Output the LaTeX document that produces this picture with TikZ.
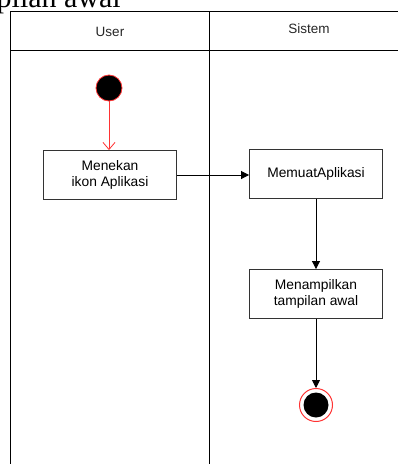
\documentclass[tikz,border=0pt]{standalone}
\usepackage{fontspec}
\setmainfont{Liberation Sans}
\newfontfamily\captionserif{Liberation Serif}
\usetikzlibrary{arrows.meta}
\definecolor{edge}{HTML}{333333}
\definecolor{startred}{HTML}{FF3333}
\begin{document}
\begin{tikzpicture}[x=1pt,y=-1pt,
  lane/.style={draw=black,line width=0.9pt},
  action/.style={draw=edge,line width=0.9pt,fill=white,minimum width=133pt,minimum height=49pt,
    align=center,font=\fontsize{13.8}{15.5}\selectfont,inner sep=0pt},
  flow/.style={draw=black,line width=0.9pt,-{Triangle[length=8pt,width=8pt]}},
  lanetitle/.style={font=\fontsize{13.5}{15}\selectfont,text=black!85}]
\useasboundingbox (0,0) rectangle (398,464);
\clip (0,0) rectangle (398,464);
% caption text running off the top edge
\node[anchor=base east,font=\captionserif\fontsize{30}{30}\selectfont,inner sep=0pt] (cap) at (121,7) {Tampilan awal};
% swimlane frame
\draw[lane] (10,470) -- (10,11) -- (400,11);
\draw[lane] (10,50) -- (400,50);
\draw[lane] (209,11) -- (209,470);
\node[lanetitle] (user) at (110,32) {User};
\node[lanetitle] (sys) at (309,29) {Sistem};
% nodes
\node[circle,fill=black,draw=startred,line width=0.8pt,minimum size=26pt,inner sep=0pt] (start) at (109,88) {};
\node[action] (a1) at (110,175) {Menekan\\ikon Aplikasi};
\node[action] (a2) at (316,174) {MemuatAplikasi};
\node[action] (a3) at (316,294) {Menampilkan\\tampilan awal};
\node[circle,draw=startred,line width=1pt,fill=white,minimum size=33pt,inner sep=0pt] (stop) at (316,405) {};
\node[circle,fill=black,minimum size=25pt,inner sep=0pt] (stopin) at (316,405) {};
% connectors
\draw[startred,line width=0.8pt,-{Straight Barb[length=7pt,width=12pt]}] (start) -- (start |- a1.north);
\draw[flow] (a1.east) -- (a2.west |- a1.east);
\draw[flow] (a2) -- (a3);
\draw[flow] (a3) -- (stop);
\end{tikzpicture}
\end{document}
